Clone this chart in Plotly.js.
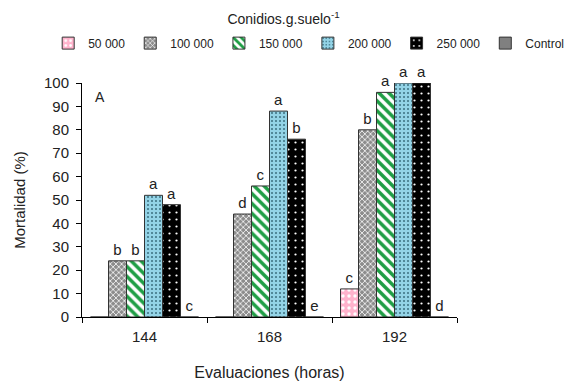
<!DOCTYPE html>
<html>
<head>
<meta charset="utf-8">
<script src="https://cdn.plot.ly/plotly-3.0.1.min.js"></script>
<style>html,body{margin:0;padding:0;background:#fff;}#chart{width:567px;height:385px;}</style>
</head>
<body>
<div id="chart"></div>
<script>
const categories = ['144', '168', '192'];
const seriesNames = ['50 000', '100 000', '150 000', '200 000', '250 000', 'Control'];
const v50000  = [0, 0, 12];
const v100000 = [24, 44, 80];
const v150000 = [24, 56, 96];
const v200000 = [52, 88, 100];
const v250000 = [48, 76, 100];
const vControl = [0, 0, 0];
const l50000  = ['', '', 'c'];
const l100000 = ['b', 'd', 'b'];
const l150000 = ['b', 'c', 'a'];
const l200000 = ['a', 'a', 'a'];
const l250000 = ['a', 'b', 'a'];
const lControl = ['c', 'e', 'd'];

const values = [v50000, v100000, v150000, v200000, v250000, vControl];
const labels = [l50000, l100000, l150000, l200000, l250000, lControl];
const patterns = [
  {shape: '.', bgcolor: '#FFB3CC', fgcolor: '#ffffff', size: 6, solidity: 0.25},
  {shape: 'x', bgcolor: '#8c8c8c', fgcolor: '#ffffff', size: 4, solidity: 0.35},
  {shape: '\\', bgcolor: '#ffffff', fgcolor: '#1f9e45', size: 7, solidity: 0.5},
  {shape: '.', bgcolor: '#93D3E6', fgcolor: '#3a6f80', size: 4, solidity: 0.2},
  {shape: '.', bgcolor: '#000000', fgcolor: '#ffffff', size: 7, solidity: 0.08},
  {shape: '', bgcolor: '#808080', fgcolor: '#808080', size: 6, solidity: 0.3}
];
const fillColors = ['#FFB3CC', '#8c8c8c', '#ffffff', '#93D3E6', '#000000', '#808080'];

const traces = seriesNames.map((name, i) => ({
  type: 'bar',
  name: name,
  x: categories,
  y: values[i],
  text: labels[i],
  textposition: 'outside',
  cliponaxis: false,
  legend: i < 3 ? 'legend' : 'legend2',
  textfont: {family: 'Liberation Sans, Arial, sans-serif', size: 15, color: '#222'},
  marker: {
    color: fillColors[i],
    line: {color: '#333', width: 1},
    pattern: patterns[i].shape ? patterns[i] : undefined
  }
}));

const legendCommon = {orientation: 'h', xref: 'container', xanchor: 'left', yref: 'container', y: 0.888, yanchor: 'middle', bgcolor: 'rgba(0,0,0,0)', font: {size: 12, color: '#222'}, itemwidth: 30, tracegroupgap: 0, traceorder: 'normal'};

const layout = {
  width: 567, height: 385,
  margin: {l: 82, r: 110, t: 83, b: 68},
  paper_bgcolor: '#fff', plot_bgcolor: '#fff',
  font: {family: 'Liberation Sans, Arial, sans-serif', size: 14, color: '#222'},
  barmode: 'group', bargap: 0.136, bargroupgap: 0,
  showlegend: true,
  title: {text: 'Conidios.g.suelo<sup>-1</sup>', x: 0.5, xref: 'container', xanchor: 'center', y: 0.95, yref: 'container', yanchor: 'middle', font: {size: 14, color: '#222'}},
  legend: Object.assign({}, legendCommon, {x: 0.085}),
  legend2: Object.assign({}, legendCommon, {x: 0.543}),
  xaxis: {
    type: 'category', showline: true, linecolor: '#000', linewidth: 1,
    ticks: 'outside', tickson: 'boundaries', ticklen: 5, tickcolor: '#000',
    ticklabelstandoff: 6,
    showgrid: false, zeroline: false,
    tickfont: {size: 15, color: '#222'},
    title: {text: 'Evaluaciones (horas)', font: {size: 16, color: '#222'}, standoff: 22}
  },
  yaxis: {
    range: [0, 100], dtick: 10, showline: true, linecolor: '#000', linewidth: 1,
    ticks: 'outside', ticklen: 5, tickcolor: '#000', showgrid: false, zeroline: false,
    ticklabelstandoff: 4,
    tickfont: {size: 15, color: '#222'},
    title: {text: 'Mortalidad (%)', font: {size: 15, color: '#222'}, standoff: 14}
  },
  annotations: [
    {text: 'A', xref: 'paper', yref: 'paper', x: 0.03, y: 0.94, xanchor: 'left', yanchor: 'middle', showarrow: false, font: {size: 14, color: '#222'}}
  ]
};

Plotly.newPlot('chart', traces, layout, {displayModeBar: false, staticPlot: true});
</script>
</body>
</html>
